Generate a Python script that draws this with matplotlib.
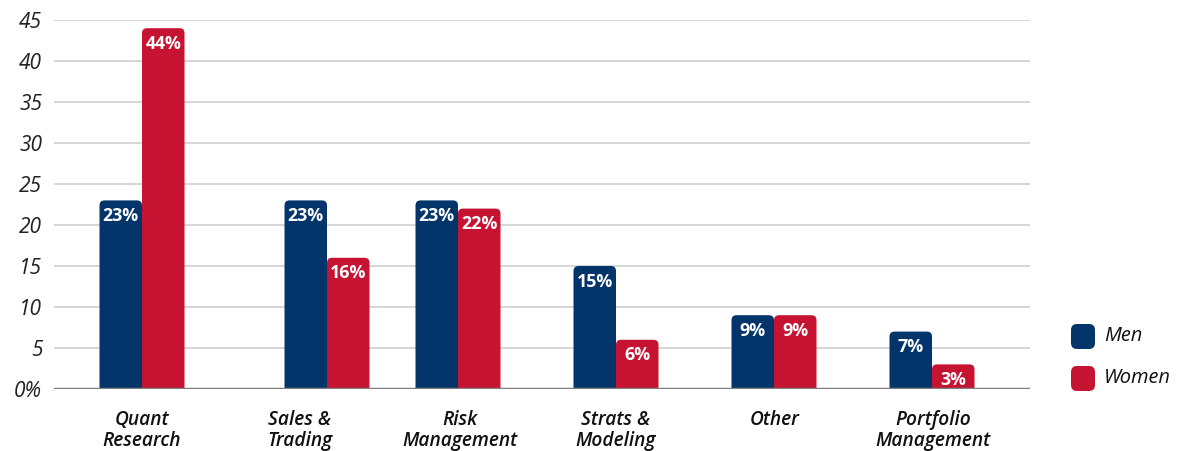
import matplotlib.pyplot as plt
from matplotlib import font_manager as fm
from matplotlib.patches import FancyBboxPatch
from matplotlib.transforms import blended_transform_factory

categories = ["Quant\nResearch", "Sales &\nTrading", "Risk\nManagement",
              "Strats &\nModeling", "Other", "Portfolio\nManagement"]
men = [23, 23, 23, 15, 9, 7]
women = [44, 16, 22, 6, 9, 3]
yticks = [0, 5, 10, 15, 20, 25, 30, 35, 40, 45]
ytick_labels = ["0%", "5", "10", "15", "20", "25", "30", "35", "40", "45"]

# layout (x in pixel-like units)
group_x = [142, 327, 458, 616, 774, 932]
label_x = [142, 300, 460, 616, 775, 933]
bar_w = 42.5
navy = "#03356B"
red = "#C51331"


def font(fname, size):
    for f in fm.fontManager.ttflist:
        if f.fname.endswith("/" + fname):
            return fm.FontProperties(fname=f.fname, size=size)
    return fm.FontProperties(family="DejaVu Sans", size=size)


f_val = font("OpenSans-Bold.ttf", 12.8)
f_tick = font("OpenSans-Italic.ttf", 15)
f_cat = font("OpenSans-SemiboldItalic.ttf", 13.8)
f_leg = font("OpenSans-Italic.ttf", 14.5)

fig = plt.figure(figsize=(11.92, 4.51), dpi=100)
ax = fig.add_axes([54 / 1192, 62 / 451, (1030 - 54) / 1192, (389 - 20) / 451])
ax.set_xlim(54, 1030)
ax.set_ylim(0, 45)

px_per_unit = (389 - 20) / 45.0
rad = 5


def rbar(x0, h, color):
    p = FancyBboxPatch((x0, -2), bar_w, h + 2,
                       boxstyle=f"round,pad=0,rounding_size={rad}",
                       mutation_aspect=1 / px_per_unit,
                       facecolor=color, edgecolor="none", zorder=3)
    ax.add_patch(p)


for i in range(len(categories)):
    xc = group_x[i]
    rbar(xc - bar_w, men[i], navy)
    rbar(xc, women[i], red)
    ax.text(xc - bar_w / 2, men[i] - 0.8, f"{men[i]}%", color="white",
            ha="center", va="top", fontproperties=f_val, zorder=4)
    ax.text(xc + bar_w / 2, women[i] - 0.8, f"{women[i]}%", color="white",
            ha="center", va="top", fontproperties=f_val, zorder=4)

# grid
for y in yticks[1:]:
    ax.axhline(y, color="#D3D3D3", lw=1.3, zorder=1)
ax.axhline(0, color="#7F7F7F", lw=2.5, zorder=5)

ax.set_yticks(yticks)
ax.set_yticklabels(ytick_labels, fontproperties=f_tick, color="#222222")
ax.tick_params(axis="y", length=0, pad=8.5)
ax.set_xticks([])
for s in ax.spines.values():
    s.set_visible(False)

trans = blended_transform_factory(ax.transData, ax.transAxes)
for lx, lab in zip(label_x, categories):
    ax.text(lx, -0.058, lab, transform=trans, ha="center", va="top",
            fontproperties=f_cat, color="#111111", linespacing=1.05)

# legend
for yy, col, name in [(324, navy, "Men"), (366, red, "Women")]:
    box = FancyBboxPatch((1071 / 1192, 1 - (yy + 25) / 451), 24 / 1192, 25 / 451,
                         boxstyle="round,pad=0,rounding_size=0.005",
                         mutation_aspect=1192 / 451,
                         transform=fig.transFigure, facecolor=col,
                         edgecolor="none")
    fig.add_artist(box)
    fig.text(1104 / 1192, 1 - (yy + 12) / 451, name, ha="left", va="center",
             fontproperties=f_leg, color="#111111")

fig.savefig("out.png", dpi=100)
